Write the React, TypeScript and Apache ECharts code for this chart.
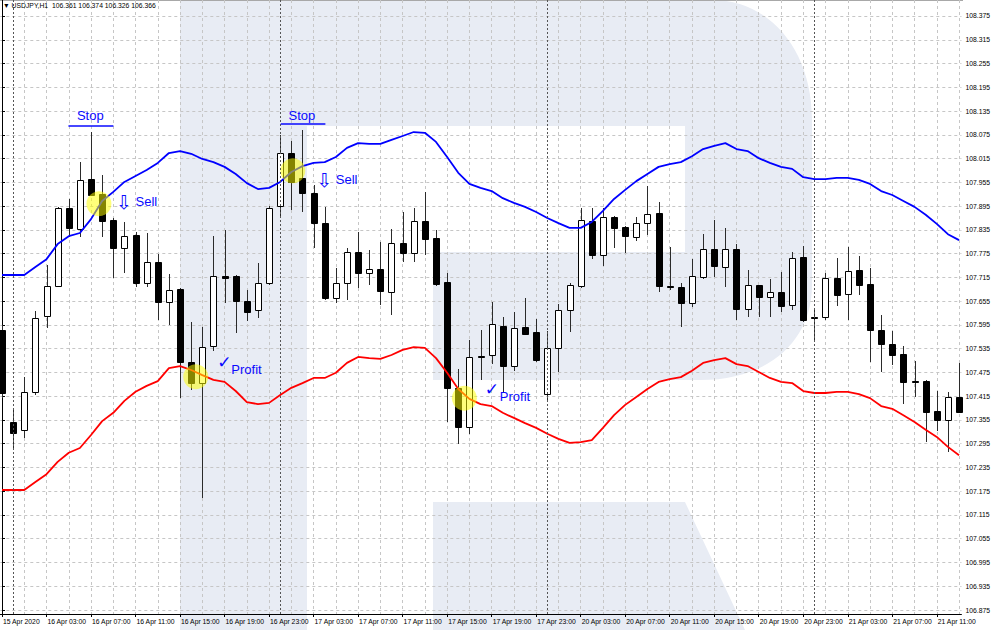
import React, { useEffect, useRef } from "react";
import * as echarts from "echarts";

// ---------- data ----------
const timeLabels = [
  "15 Apr 2020", "16 Apr 03:00", "16 Apr 07:00", "16 Apr 11:00", "16 Apr 15:00", "16 Apr 19:00",
  "16 Apr 23:00", "17 Apr 03:00", "17 Apr 07:00", "17 Apr 11:00", "17 Apr 15:00", "17 Apr 19:00",
  "17 Apr 23:00", "20 Apr 03:00", "20 Apr 07:00", "20 Apr 11:00", "20 Apr 15:00", "20 Apr 19:00",
  "20 Apr 23:00", "21 Apr 03:00", "21 Apr 07:00", "21 Apr 11:00",
];
const labelBars = [0, 4, 8, 12, 16, 20, 24, 28, 32, 36, 40, 44, 48, 52, 56, 60, 64, 68, 72, 76, 80, 84];
const gridBars = [0, 2, 4, 6, 8, 10, 12, 14, 16, 18, 20, 22, 24, 26, 28, 30, 32, 34, 36, 38, 40, 42,
  44, 46, 48, 50, 52, 54, 56, 58, 60, 62, 64, 66, 68, 70, 72, 74, 76, 78, 80, 82, 84, 86];
const daySeparators = [1, 25, 49, 73];

const priceTicks = [106.875, 106.935, 106.995, 107.055, 107.115, 107.175, 107.235, 107.295, 107.355,
  107.415, 107.475, 107.535, 107.595, 107.655, 107.715, 107.775, 107.835, 107.895, 107.955, 108.015,
  108.075, 108.135, 108.195, 108.255, 108.315, 108.375];

// [open, close, low, high]
const candles = [
  [107.582, 107.423, 107.410, 107.595], [107.350, 107.322, 107.279, 107.380], [107.330, 107.426, 107.309, 107.463],
  [107.426, 107.612, 107.418, 107.630], [107.617, 107.693, 107.587, 107.746], [107.693, 107.890, 107.691, 107.893],
  [107.890, 107.840, 107.817, 107.913], [107.837, 107.961, 107.817, 108.006], [107.963, 107.923, 107.920, 108.082],
  [107.925, 107.857, 107.817, 107.974], [107.860, 107.789, 107.713, 107.865], [107.789, 107.819, 107.726, 107.855],
  [107.822, 107.701, 107.691, 107.830], [107.701, 107.754, 107.691, 107.827], [107.754, 107.653, 107.607, 107.774],
  [107.653, 107.683, 107.595, 107.723], [107.686, 107.501, 107.410, 107.688], [107.501, 107.448, 107.431, 107.602],
  [107.448, 107.539, 107.158, 107.590], [107.542, 107.718, 107.529, 107.819], [107.718, 107.713, 107.650, 107.835],
  [107.718, 107.655, 107.575, 107.721], [107.655, 107.628, 107.605, 107.683], [107.633, 107.701, 107.612, 107.751],
  [107.701, 107.890, 107.696, 107.895], [107.895, 108.029, 107.865, 108.075], [108.029, 107.956, 107.885, 108.059],
  [107.966, 107.928, 107.880, 108.087], [107.928, 107.852, 107.789, 107.948], [107.852, 107.663, 107.658, 107.893],
  [107.663, 107.701, 107.650, 107.739], [107.701, 107.779, 107.658, 107.789], [107.779, 107.726, 107.688, 107.830],
  [107.726, 107.736, 107.696, 107.784], [107.736, 107.681, 107.645, 107.804], [107.678, 107.802, 107.620, 107.837],
  [107.802, 107.777, 107.754, 107.880], [107.777, 107.857, 107.754, 107.890], [107.857, 107.812, 107.772, 107.931],
  [107.814, 107.698, 107.693, 107.835], [107.703, 107.436, 107.350, 107.726], [107.436, 107.337, 107.294, 107.484],
  [107.337, 107.514, 107.320, 107.557], [107.517, 107.516, 107.456, 107.582], [107.519, 107.597, 107.496, 107.653],
  [107.592, 107.491, 107.423, 107.615], [107.491, 107.587, 107.479, 107.628], [107.590, 107.572, 107.570, 107.663],
  [107.577, 107.506, 107.501, 107.610], [107.420, 107.537, 107.405, 107.580], [107.537, 107.633, 107.476, 107.648],
  [107.633, 107.696, 107.577, 107.701], [107.693, 107.860, 107.688, 107.890], [107.857, 107.772, 107.761, 107.890],
  [107.772, 107.867, 107.744, 107.890], [107.867, 107.840, 107.789, 107.870], [107.842, 107.819, 107.777, 107.845],
  [107.817, 107.852, 107.807, 107.867], [107.852, 107.875, 107.822, 107.946], [107.878, 107.693, 107.678, 107.905],
  [107.693, 107.691, 107.683, 107.792], [107.691, 107.650, 107.590, 107.701], [107.650, 107.718, 107.640, 107.761],
  [107.716, 107.787, 107.711, 107.824], [107.787, 107.744, 107.716, 107.860], [107.741, 107.787, 107.691, 107.840],
  [107.787, 107.635, 107.607, 107.799], [107.635, 107.696, 107.615, 107.734], [107.696, 107.665, 107.615, 107.696],
  [107.665, 107.678, 107.615, 107.711], [107.678, 107.643, 107.628, 107.729], [107.645, 107.764, 107.633, 107.779],
  [107.766, 107.607, 107.602, 107.794], [107.615, 107.612, 107.552, 107.633], [107.615, 107.713, 107.607, 107.726],
  [107.713, 107.670, 107.643, 107.764], [107.673, 107.731, 107.607, 107.792], [107.734, 107.696, 107.670, 107.769],
  [107.698, 107.582, 107.501, 107.739], [107.582, 107.547, 107.476, 107.620], [107.547, 107.519, 107.494, 107.580],
  [107.521, 107.451, 107.395, 107.542], [107.453, 107.452, 107.413, 107.504], [107.453, 107.375, 107.299, 107.456],
  [107.378, 107.355, 107.327, 107.428], [107.355, 107.413, 107.274, 107.426], [107.413, 107.375, 107.373, 107.499],
];

const upperEnvelope = [
  107.721, 107.721, 107.721, 107.741, 107.761, 107.799, 107.819, 107.827, 107.862, 107.908,
  107.931, 107.956, 107.971, 107.986, 108.004, 108.029, 108.034, 108.027, 108.014, 108.006,
  107.994, 107.976, 107.953, 107.938, 107.941, 107.956, 107.981, 107.996, 108.004, 108.006,
  108.019, 108.042, 108.054, 108.052, 108.052, 108.062, 108.072, 108.082, 108.080, 108.057,
  108.019, 107.979, 107.951, 107.941, 107.933, 107.915, 107.903, 107.893, 107.880, 107.865,
  107.852, 107.840, 107.840, 107.855, 107.883, 107.913, 107.936, 107.958, 107.976, 107.994,
  108.001, 108.006, 108.021, 108.039, 108.047, 108.054, 108.039, 108.034, 108.016, 108.004,
  107.994, 107.989, 107.968, 107.963, 107.963, 107.966, 107.966, 107.961, 107.951, 107.933,
  107.923, 107.908, 107.893, 107.873, 107.850, 107.824, 107.809,
];

const lowerEnvelope = [
  107.178, 107.178, 107.178, 107.198, 107.218, 107.249, 107.272, 107.284, 107.317, 107.352,
  107.373, 107.403, 107.426, 107.441, 107.453, 107.486, 107.491, 107.481, 107.468, 107.456,
  107.451, 107.428, 107.400, 107.395, 107.398, 107.418, 107.436, 107.448, 107.461, 107.461,
  107.474, 107.499, 107.514, 107.511, 107.509, 107.519, 107.532, 107.539, 107.537, 107.511,
  107.474, 107.433, 107.408, 107.395, 107.390, 107.373, 107.360, 107.347, 107.335, 107.320,
  107.307, 107.297, 107.299, 107.304, 107.335, 107.367, 107.393, 107.413, 107.433, 107.451,
  107.458, 107.463, 107.479, 107.499, 107.506, 107.511, 107.496, 107.491, 107.476, 107.461,
  107.451, 107.448, 107.428, 107.423, 107.423, 107.426, 107.426, 107.420, 107.410, 107.390,
  107.383, 107.367, 107.350, 107.330, 107.312, 107.287, 107.266,
];

// annotation anchors in chart coordinates [bar, price]
const highlightCircles = [
  [8.71, 107.901], [26.13, 107.984], [17.41, 107.464], [41.55, 107.41],
];
const notes = [
  { x: 7.98, p: 108.123, text: "Stop", kind: "word", align: "center" },
  { x: 27.0, p: 108.123, text: "Stop", kind: "word", align: "center" },
  { x: 10.99, p: 107.904, text: "⇩", kind: "arrow", align: "center" },
  { x: 12.04, p: 107.906, text: "Sell", kind: "word", align: "left" },
  { x: 29.0, p: 107.959, text: "⇩", kind: "arrow", align: "center" },
  { x: 30.04, p: 107.961, text: "Sell", kind: "word", align: "left" },
  { x: 20.03, p: 107.501, text: "✓", kind: "check", align: "center" },
  { x: 20.65, p: 107.481, text: "Profit", kind: "word", align: "left" },
  { x: 44.06, p: 107.433, text: "✓", kind: "check", align: "center" },
  { x: 44.78, p: 107.412, text: "Profit", kind: "word", align: "left" },
];
const stopUnderlines = [
  [[5.97, 108.098], [10.01, 108.098]],
  [[25.05, 108.104], [29.06, 108.104]],
];

const headerText = "▼ USDJPY,H1  106.361 106.374 106.326 106.366";

// ---------- watermark ----------
const logoPath =
  "M180 0 L712 0 C770 0 812 50 812 120 L812 285 C812 340 770 380 700 380 L433 380 L433 252 L685 252 L685 126 L307 126 L307 630 L180 630 Z " +
  "M433 502 L685 502 L745 630 L433 630 Z";
let logoRegistered = false;

const FONT = '"Liberation Sans", Arial, sans-serif';
const GLYPH_FONT = '"DejaVu Sans", "Liberation Sans", sans-serif';
const NOTE_COLOR = "#0a0aff";

const noteSize: Record<string, number> = { word: 13, arrow: 19, check: 17 };

export default function App() {
  const ref = useRef<HTMLDivElement>(null);

  useEffect(() => {
    if (!ref.current) return;
    if (!logoRegistered) {
      echarts.graphic.registerShape("rfLogo", echarts.graphic.extendPath(logoPath, {}));
      logoRegistered = true;
    }
    const chart = echarts.init(ref.current, undefined, { renderer: "svg" });

    const xMin = -0.1525;
    const xMax = 86.215;

    const option: any = {
      animation: false,
      title: {
        text: headerText,
        left: 3,
        top: 2,
        padding: 0,
        textStyle: { fontSize: 6.8, fontWeight: "normal", fontFamily: FONT, color: "#000" },
      },
      graphic: [
        { type: "rfLogo", x: 0, y: 0, z: -10, silent: true, style: { fill: "#e8ecf4" } },
        {
          type: "line", z: -5, silent: true,
          shape: { x1: 0, y1: 0.5, x2: 963, y2: 0.5 },
          style: { stroke: "#a8a8a8", lineWidth: 1 },
        },
      ],
      grid: { left: 0, right: 30, top: 0, bottom: 16, show: false },
      xAxis: [
        {
          type: "value",
          min: xMin,
          max: xMax,
          position: "bottom",
          axisLine: { show: true, onZero: false, lineStyle: { color: "#000", width: 1 } },
          axisTick: { show: true, length: 3, customValues: labelBars, lineStyle: { color: "#000" } },
          axisLabel: {
            show: true,
            customValues: labelBars,
            formatter: (v: number) => timeLabels[labelBars.indexOf(Math.round(v))] ?? "",
            align: "left",
            margin: 4,
            padding: [0, 0, 0, 1],
            fontSize: 6.8,
            fontFamily: FONT,
            color: "#000",
          },
          splitLine: { show: false },
        },
        {
          type: "value",
          min: xMin,
          max: xMax,
          position: "top",
          axisLine: { show: false },
          axisTick: { show: false, customValues: gridBars },
          axisLabel: { show: false, customValues: gridBars },
          splitLine: { show: true, lineStyle: { color: "#c6c6c6", width: 1, type: [3, 3] } },
        },
      ],
      yAxis: {
        type: "value",
        position: "right",
        min: 106.8649,
        max: 108.4154,
        axisLine: { show: true, lineStyle: { color: "#000", width: 1 } },
        axisTick: { show: true, length: 3, customValues: priceTicks, lineStyle: { color: "#000" } },
        axisLabel: {
          show: true,
          customValues: priceTicks,
          formatter: (v: number) => v.toFixed(3),
          margin: 4,
          fontSize: 6.8,
          fontFamily: FONT,
          color: "#000",
        },
        splitLine: { show: true, lineStyle: { color: "#c6c6c6", width: 1, type: [3, 3] } },
      },
      series: [
        {
          type: "custom",
          name: "USDJPY",
          clip: true,
          z: 2,
          encode: { x: 0, y: [1, 2, 3, 4] },
          data: candles.map((c, i) => [i, c[0], c[1], c[2], c[3]]),
          renderItem: (_params: any, api: any) => {
            const i = api.value(0);
            const o = api.value(1);
            const c = api.value(2);
            const l = api.value(3);
            const h = api.value(4);
            const pO = api.coord([i, o]);
            const pC = api.coord([i, c]);
            const pL = api.coord([i, l]);
            const pH = api.coord([i, h]);
            const cx = Math.round(pO[0]) + 0.5;
            const yT = Math.round(Math.min(pO[1], pC[1])) + 0.5;
            let yB = Math.round(Math.max(pO[1], pC[1])) + 0.5;
            if (yB - yT < 1) yB = yT + 1;
            const bull = c >= o;
            return {
              type: "group",
              children: [
                {
                  type: "line",
                  shape: { x1: cx, y1: Math.round(pH[1]), x2: cx, y2: Math.round(pL[1]) },
                  style: { stroke: "#2b2b2b", lineWidth: 1 },
                },
                {
                  type: "rect",
                  shape: { x: cx - 3, y: yT, width: 6, height: yB - yT },
                  style: { fill: bull ? "#ffffff" : "#000000", stroke: "#000000", lineWidth: 1 },
                },
              ],
            };
          },
        },
        {
          type: "line",
          name: "Envelope upper",
          z: 3,
          clip: true,
          showSymbol: false,
          symbol: "none",
          data: upperEnvelope.map((v, i) => [i, v]),
          lineStyle: { color: "#0000ff", width: 1.8 },
          markLine: {
            silent: true,
            symbol: ["none", "none"],
            label: { show: false },
            lineStyle: { color: "#555555", width: 1, type: [2, 2] },
            data: daySeparators.map((d) => ({ xAxis: d })),
          },
        },
        {
          type: "line",
          name: "Envelope lower",
          z: 3,
          clip: true,
          showSymbol: false,
          symbol: "none",
          data: lowerEnvelope.map((v, i) => [i, v]),
          lineStyle: { color: "#ff0000", width: 1.8 },
        },
        {
          type: "scatter",
          name: "highlights",
          z: 4,
          symbolSize: 25,
          itemStyle: { color: "rgba(255,255,0,0.52)", opacity: 1 },
          data: highlightCircles,
        },
        {
          type: "scatter",
          name: "notes",
          z: 5,
          symbolSize: 1,
          itemStyle: { color: "rgba(0,0,0,0)", opacity: 1 },
          data: notes.map((n) => ({
            value: [n.x, n.p],
            label: {
              show: true,
              position: [0, 0],
              formatter: n.text,
              align: n.align,
              verticalAlign: "middle",
              fontSize: noteSize[n.kind],
              fontFamily: n.kind === "word" ? FONT : GLYPH_FONT,
              color: NOTE_COLOR,
              opacity: 1,
            },
          })),
          markLine: {
            silent: true,
            symbol: ["none", "none"],
            label: { show: false },
            lineStyle: { color: NOTE_COLOR, width: 1.5, type: "solid", opacity: 1 },
            data: stopUnderlines.map((seg) => [{ coord: seg[0] }, { coord: seg[1] }]),
          },
        },
      ],
    };

    chart.setOption(option);
    return () => chart.dispose();
  }, []);

  return (
    <div
      ref={ref}
      style={{ position: "fixed", left: 0, top: 0, width: 993, height: 630, background: "#ffffff" }}
    />
  );
}
